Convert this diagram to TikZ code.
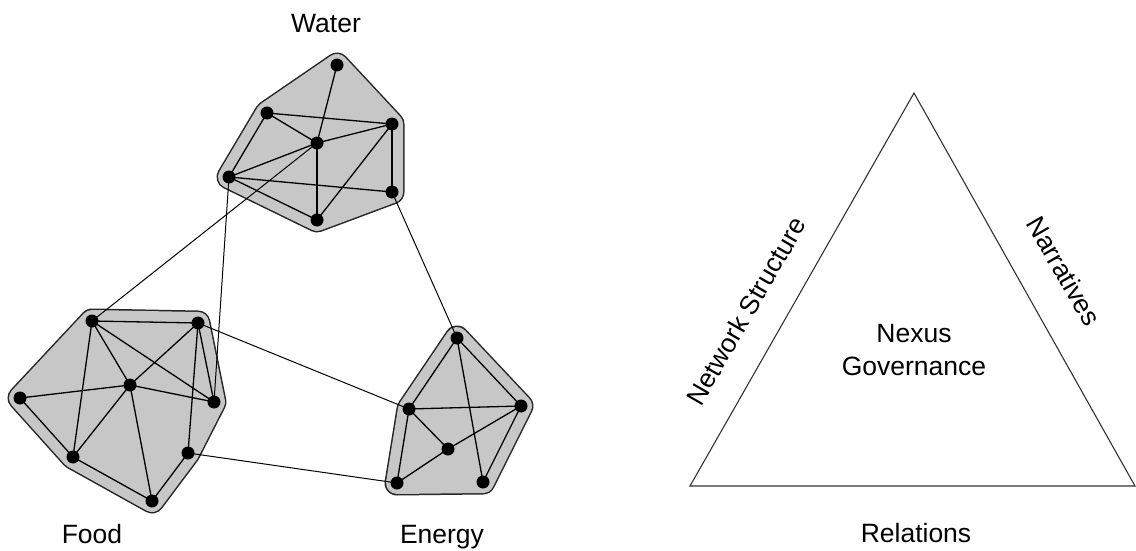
\documentclass[tikz,border=0pt]{standalone}
\usepackage{fontspec}
\setmainfont{Liberation Sans}
\begin{document}
\begin{tikzpicture}[x=1pt,y=-1pt,
  dot/.style={circle,fill=black,inner sep=0pt,minimum size=13pt},
  edge/.style={draw=black,line width=1.3pt},
  link/.style={draw=black,line width=1pt},
  hullout/.style={draw=black!85,line width=25pt,line join=round},
  hullin/.style={draw=black!22,fill=black!22,line width=22pt,line join=round},
  lbl/.style={font=\fontsize{26.5}{32}\selectfont,inner sep=0pt},
  tri/.style={draw=black!80,line width=1.1pt}]
\useasboundingbox (0,0) rectangle (1136,551);
% Water
\node[dot] (w1) at (337,65) {};
\node[dot] (w2) at (267,113) {};
\node[dot] (w3) at (392,124) {};
\node[dot] (w4) at (317,143) {};
\node[dot] (w5) at (229,177) {};
\node[dot] (w6) at (392,192) {};
\node[dot] (w7) at (317,220) {};
% Food
\node[dot] (f1) at (92,321) {};
\node[dot] (f2) at (198,323) {};
\node[dot] (f3) at (130,385) {};
\node[dot] (f4) at (20,398) {};
\node[dot] (f5) at (214,402) {};
\node[dot] (f6) at (188,453) {};
\node[dot] (f7) at (73,457) {};
\node[dot] (f8) at (152,501) {};
% Energy
\node[dot] (e1) at (457,338) {};
\node[dot] (e2) at (409,409) {};
\node[dot] (e3) at (521,406) {};
\node[dot] (e4) at (448,449) {};
\node[dot] (e5) at (397,483) {};
\node[dot] (e6) at (483,482) {};
% hulls
\path[hullout] (w1.center) -- (w3.center) -- (w6.center) -- (w7.center) -- (w5.center) -- (w2.center) -- cycle;
\path[hullin] (w1.center) -- (w3.center) -- (w6.center) -- (w7.center) -- (w5.center) -- (w2.center) -- cycle;
\path[hullout] (f1.center) -- (f2.center) -- (f5.center) -- (f6.center) -- (f8.center) -- (f7.center) -- (f4.center) -- cycle;
\path[hullin] (f1.center) -- (f2.center) -- (f5.center) -- (f6.center) -- (f8.center) -- (f7.center) -- (f4.center) -- cycle;
\path[hullout] (e1.center) -- (e3.center) -- (e6.center) -- (e5.center) -- (e2.center) -- cycle;
\path[hullin] (e1.center) -- (e3.center) -- (e6.center) -- (e5.center) -- (e2.center) -- cycle;
% inter-cluster links
\path[link] (f1.center) -- (w4.center);
\path[link] (f5.center) -- (w5.center);
\path[link] (w6.center) -- (e1.center);
\path[link] (f2.center) -- (e2.center);
\path[link] (f6.center) -- (e5.center);
% water edges
\foreach \a/\b in {w1/w4,w4/w7,w2/w3,w2/w4,w2/w5,w3/w4,w4/w5,w3/w6,w3/w7,w5/w6,w5/w7}
  \path[edge] (\a.center) -- (\b.center);
% food edges
\foreach \a/\b in {f1/f2,f1/f3,f1/f5,f1/f7,f2/f3,f2/f5,f2/f6,f3/f4,f3/f5,f3/f7,f3/f8,f4/f7,f7/f8,f6/f8}
  \path[edge] (\a.center) -- (\b.center);
% energy edges
\foreach \a/\b in {e1/e2,e1/e3,e1/e6,e2/e3,e2/e4,e2/e5,e3/e4,e4/e5,e3/e6}
  \path[edge] (\a.center) -- (\b.center);
% redraw dots on top
\foreach \n in {w1,w2,w3,w4,w5,w6,w7,f1,f2,f3,f4,f5,f6,f7,f8,e1,e2,e3,e4,e5,e6}
  \fill[black] (\n) circle (6.5pt);
% labels
\node[lbl,anchor=base] (water) at (326,33) {Water};
\node[lbl,anchor=base] (food) at (92,543) {Food};
\node[lbl,anchor=base] (energy) at (442,543) {Energy};
% triangle
\coordinate (ta) at (914,93);
\coordinate (tl) at (690,486);
\coordinate (tr) at (1135,486);
\path[tri,line join=miter] (ta) -- (tr) -- (tl) -- cycle;
\node[lbl,anchor=base] (nexus) at (914,342) {Nexus};
\node[lbl,anchor=base] (gov) at (914,375) {Governance};
\node[lbl,anchor=base] (rel) at (916,542) {Relations};
\node[lbl,rotate=60] (net) at (746,311) {Network Structure};
\node[lbl,rotate=-60] (narr) at (1064,271) {Narratives};
\end{tikzpicture}
\end{document}
